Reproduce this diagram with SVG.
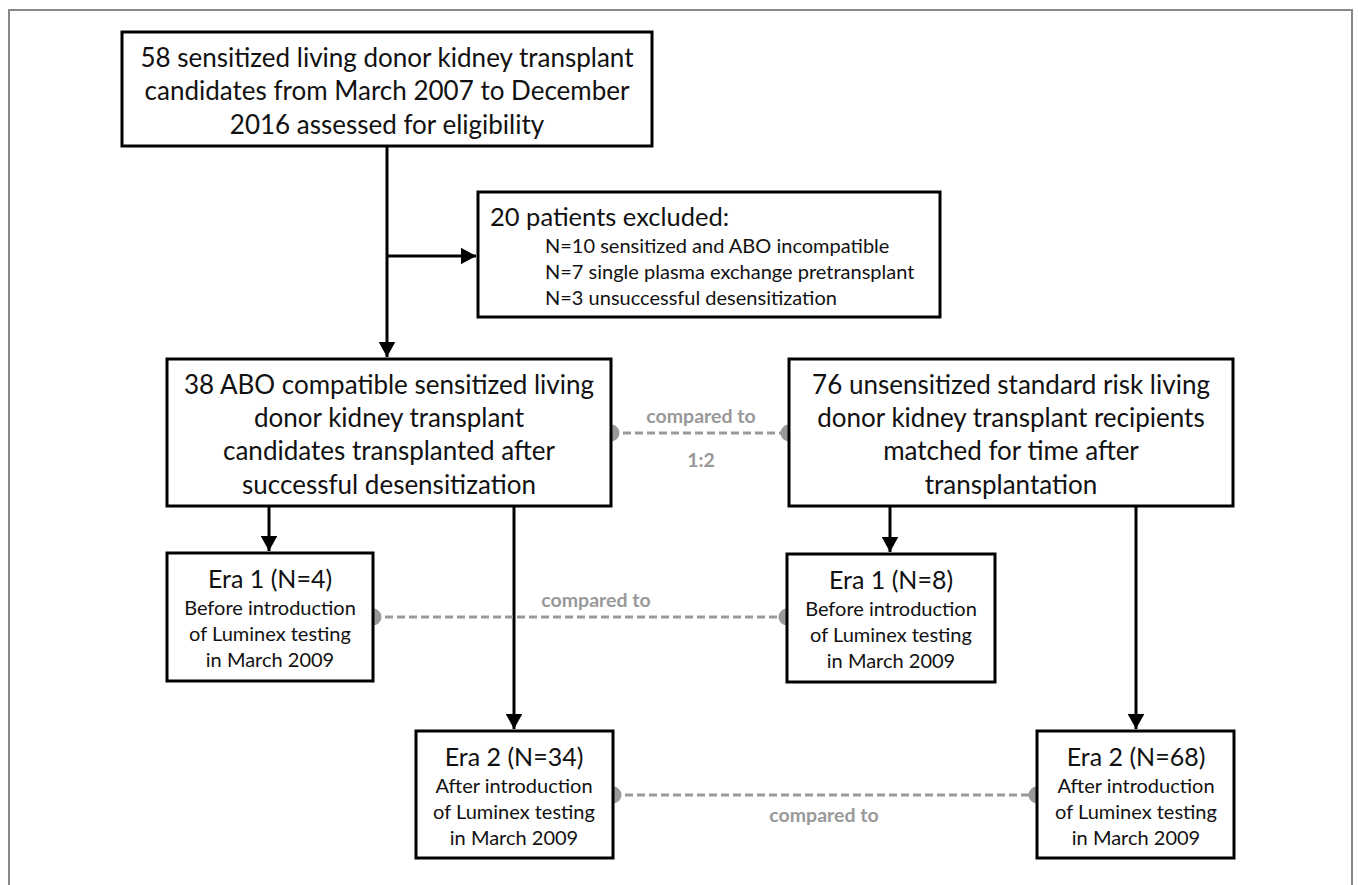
<svg xmlns="http://www.w3.org/2000/svg" width="1358" height="885" viewBox="0 0 1358 885">
<defs>
<style>
.box{fill:#fff;stroke:#000;stroke-width:3}
.t{font-family:Lato,"Liberation Sans",sans-serif;fill:#111;text-anchor:middle}
.s{text-anchor:start}
.big{font-size:26px}
.mid{font-size:25px}
.sm{font-size:20px}
.ln{stroke:#000;stroke-width:3;fill:none}
.dash{stroke:#999;stroke-width:3;stroke-dasharray:8,4;fill:none}
.dot{fill:#999}
.lbl{font-family:Lato,"Liberation Sans",sans-serif;font-size:19.5px;font-weight:bold;fill:#999;text-anchor:middle}
</style>
<marker id="arr" viewBox="0 0 10 11" refX="10" refY="5.5" markerWidth="5" markerHeight="5.5" markerUnits="strokeWidth" orient="auto">
<path d="M0,0 L10,5.5 L0,11 z" fill="#000"/>
</marker>
</defs>
<rect width="1358" height="885" fill="#fff"/>
<path d="M9,885 V10 H1352 V885" fill="none" stroke="#888" stroke-width="2"/>

<g id="connectors">
<line class="ln" x1="387" y1="146" x2="387" y2="357" marker-end="url(#arr)"/>
<line class="ln" x1="387" y1="256" x2="476" y2="256" marker-end="url(#arr)"/>
<line class="ln" x1="269" y1="506" x2="269" y2="551" marker-end="url(#arr)"/>
<line class="ln" x1="514" y1="506" x2="514" y2="729" marker-end="url(#arr)"/>
<line class="ln" x1="890" y1="506" x2="890" y2="552" marker-end="url(#arr)"/>
<line class="ln" x1="1136" y1="506" x2="1136" y2="729" marker-end="url(#arr)"/>
<line class="dash" x1="611" y1="433" x2="789" y2="433"/>
<circle class="dot" cx="611" cy="433" r="8.5"/>
<circle class="dot" cx="789" cy="433" r="8.5"/>
<text class="lbl" x="701" y="423">compared to</text>
<text class="lbl" x="701" y="467">1:2</text>
<line class="dash" x1="373" y1="617" x2="787" y2="617"/>
<circle class="dot" cx="373" cy="617" r="8.5"/>
<circle class="dot" cx="787" cy="617" r="8.5"/>
<text class="lbl" x="596" y="607">compared to</text>
<line class="dash" x1="613" y1="795" x2="1037" y2="795"/>
<circle class="dot" cx="613" cy="795" r="8.5"/>
<circle class="dot" cx="1037" cy="795" r="8.5"/>
<text class="lbl" x="824" y="822">compared to</text>
</g>

<g id="n-top">
<rect class="box" x="122" y="32" width="530" height="114"/>
<text class="t big" x="387" y="67">58 sensitized living donor kidney transplant</text>
<text class="t big" x="387" y="100">candidates from March 2007 to December</text>
<text class="t big" x="387" y="134">2016 assessed for eligibility</text>
</g>

<g id="n-excluded">
<rect class="box" x="478" y="192" width="462" height="125"/>
<text class="t mid s" x="490" y="226" style="font-size:25.5px">20 patients excluded:</text>
<text class="t sm s" x="545" y="253">N=10 sensitized and ABO incompatible</text>
<text class="t sm s" x="545" y="279">N=7 single plasma exchange pretransplant</text>
<text class="t sm s" x="545" y="305">N=3 unsuccessful desensitization</text>
</g>

<g id="n-sensitized">
<rect class="box" x="167" y="359" width="444" height="147"/>
<text class="t big" x="389" y="394">38 ABO compatible sensitized living</text>
<text class="t big" x="389" y="427">donor kidney transplant</text>
<text class="t big" x="389" y="460">candidates transplanted after</text>
<text class="t big" x="389" y="494">successful desensitization</text>
</g>

<g id="n-unsensitized">
<rect class="box" x="789" y="359" width="444" height="147"/>
<text class="t big" x="1011" y="394">76 unsensitized standard risk living</text>
<text class="t big" x="1011" y="427">donor kidney transplant recipients</text>
<text class="t big" x="1011" y="460">matched for time after</text>
<text class="t big" x="1011" y="494">transplantation</text>
</g>

<g id="n-era1-left">
<rect class="box" x="167" y="553" width="206" height="128"/>
<text class="t mid" x="270" y="588">Era 1 (N=4)</text>
<text class="t sm" x="270" y="615">Before introduction</text>
<text class="t sm" x="270" y="641">of Luminex testing</text>
<text class="t sm" x="270" y="667">in March 2009</text>
</g>

<g id="n-era1-right">
<rect class="box" x="787" y="554" width="208" height="128"/>
<text class="t mid" x="891" y="589">Era 1 (N=8)</text>
<text class="t sm" x="891" y="616">Before introduction</text>
<text class="t sm" x="891" y="642">of Luminex testing</text>
<text class="t sm" x="891" y="668">in March 2009</text>
</g>

<g id="n-era2-left">
<rect class="box" x="416" y="731" width="197" height="127"/>
<text class="t mid" x="514" y="766">Era 2 (N=34)</text>
<text class="t sm" x="514" y="793">After introduction</text>
<text class="t sm" x="514" y="819">of Luminex testing</text>
<text class="t sm" x="514" y="845">in March 2009</text>
</g>

<g id="n-era2-right">
<rect class="box" x="1037" y="731" width="197" height="127"/>
<text class="t mid" x="1136" y="766">Era 2 (N=68)</text>
<text class="t sm" x="1136" y="793">After introduction</text>
<text class="t sm" x="1136" y="819">of Luminex testing</text>
<text class="t sm" x="1136" y="845">in March 2009</text>
</g>
</svg>
